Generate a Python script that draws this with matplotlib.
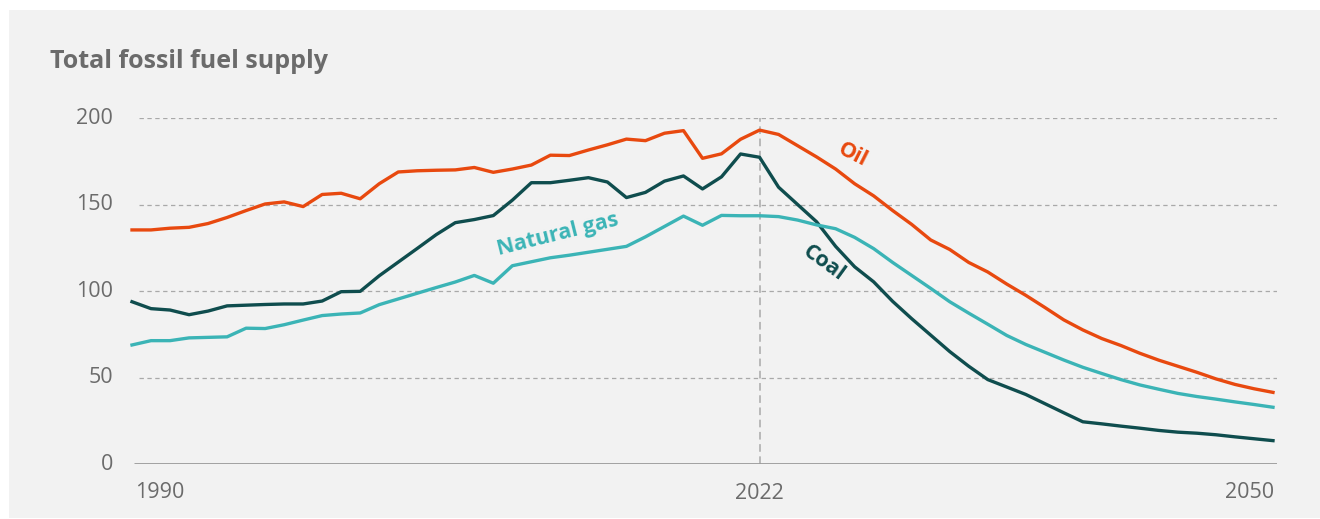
import matplotlib

matplotlib.use("Agg")

import matplotlib.pyplot as plt
from matplotlib.patches import Rectangle


FIG_W, FIG_H = 1320, 519
DPI = 100

YEARS = list(range(1990, 2051))

OIL = [
    135.3, 135.3, 136.3, 136.8, 139.0, 142.5, 146.5, 150.3, 151.5, 148.8,
    155.8, 156.5, 153.3, 162.0, 168.8, 169.5, 169.8, 170.0, 171.4, 168.6,
    170.5, 172.8, 178.5, 178.3, 181.5, 184.5, 187.8, 186.9, 191.2, 192.7,
    176.7, 179.3, 187.7, 193.0, 190.5, 184.0, 177.5, 170.5, 162.0, 155.0,
    146.5, 138.5, 129.5, 124.0, 116.5, 111.0, 104.0, 97.5, 90.5, 83.3,
    77.5, 72.5, 68.5, 64.0, 60.0, 56.5, 53.0, 49.2, 46.0, 43.5,
    41.4,
]

COAL = [
    93.8, 89.8, 89.0, 86.3, 88.4, 91.4, 91.8, 92.2, 92.5, 92.5,
    94.2, 99.6, 99.8, 108.8, 116.7, 124.6, 132.6, 139.5, 141.3, 143.6,
    152.5, 162.6, 162.6, 164.0, 165.5, 163.0, 154.0, 157.0, 163.5, 166.5,
    159.0, 166.0, 179.2, 177.3, 160.0, 150.0, 140.0, 125.8, 114.0, 105.3,
    94.0, 84.0, 74.5, 65.0, 56.5, 48.8, 44.5, 40.2, 34.9, 29.6,
    24.4, 23.2, 21.9, 20.7, 19.4, 18.4, 17.8, 16.9, 15.7, 14.6,
    13.5,
]

NATURAL_GAS = [
    68.8, 71.3, 71.3, 72.9, 73.2, 73.5, 78.5, 78.3, 80.5, 83.2,
    85.8, 86.7, 87.3, 92.1, 95.4, 98.7, 102.0, 105.2, 109.0, 104.5,
    114.6, 116.9, 119.2, 120.7, 122.4, 124.1, 125.8, 131.3, 137.3, 143.3,
    138.0, 143.7, 143.5, 143.5, 143.0, 141.0, 138.2, 136.0, 131.0, 124.5,
    116.5, 109.0, 101.5, 93.8, 87.2, 80.8, 74.3, 69.1, 64.6, 60.1,
    55.9, 52.3, 48.8, 45.7, 43.2, 40.8, 39.0, 37.5, 35.9, 34.4,
    32.8,
]

Y_TICKS = [0, 50, 100, 150, 200]
X_LABELS = ["1990", "2022", "2050"]
BASE_YEAR_LINE = 2023

COLORS = {
    "oil": "#e8490f",
    "coal": "#0f4d4e",
    "gas": "#3bb4b6",
}
TEXT_GRAY = "#6b6b6b"
PANEL = "#f2f2f2"

plt.rcParams["font.family"] = ["Open Sans", "DejaVu Sans"]


def px_x(x):
    return x / FIG_W


def px_y(y):
    return 1 - y / FIG_H


fig = plt.figure(figsize=(FIG_W / DPI, FIG_H / DPI), dpi=DPI, facecolor="white")
fig.patches.append(
    Rectangle((px_x(9), px_y(518)), px_x(1311), 508 / FIG_H,
              transform=fig.transFigure, facecolor=PANEL, edgecolor="none", zorder=-10)
)

# axes: 1990 at x=132, 2050 at x=1273; 0 at y=464, 200 at y=118
px_per_year = (1273 - 132) / 60
x0, x1 = 1990, 1990 + (1277 - 132) / px_per_year
ax = fig.add_axes([px_x(132), px_y(464), px_x(1277 - 132), (464 - 118) / FIG_H])
ax.set_zorder(5)
ax.set_facecolor("none")
ax.set_xlim(x0, x1)
ax.set_ylim(0, 200)
for side in ax.spines.values():
    side.set_visible(False)
ax.set_xticks([])
ax.set_yticks([])

grid_start = 1990 + (139 - 132) / px_per_year
for val in Y_TICKS[1:]:
    ax.hlines(val, grid_start, x1, colors="#a9a9a9", linewidth=0.9,
              linestyles=(0, (3.5, 2.8)), zorder=1)
ax.hlines(0, 1990.1, x1, colors="#9a9a9a", linewidth=2.0, zorder=2)
ax.vlines(BASE_YEAR_LINE, 0, 200, colors="#a9a9a9", linewidth=1.1,
          linestyles=(0, (5, 3)), zorder=1)

ax.plot(YEARS, COAL, color=COLORS["coal"], linewidth=2.4, clip_on=False, zorder=3,
        solid_joinstyle="round")
ax.plot(YEARS, NATURAL_GAS, color=COLORS["gas"], linewidth=2.4, clip_on=False, zorder=3,
        solid_joinstyle="round")
ax.plot(YEARS, OIL, color=COLORS["oil"], linewidth=2.4, clip_on=False, zorder=4,
        solid_joinstyle="round")

# y tick labels
for val in Y_TICKS:
    ax.text(-0.0165, val, str(val), transform=ax.get_yaxis_transform(),
            ha="right", va="center", fontsize=15.5, color=TEXT_GRAY)

# x tick labels
label_y = px_y(493)
fig.text(px_x(135), label_y, X_LABELS[0], ha="left", va="center", fontsize=15.5, color=TEXT_GRAY)
ax.text(BASE_YEAR_LINE, -0.085, X_LABELS[1], transform=ax.get_xaxis_transform(),
        ha="center", va="center", fontsize=15.5, color=TEXT_GRAY)
fig.text(px_x(1274), label_y, X_LABELS[2], ha="right", va="center", fontsize=15.5, color=TEXT_GRAY)

fig.text(px_x(50), px_y(61), "Total fossil fuel supply", ha="left", va="center",
         fontsize=18, fontweight="bold", color=TEXT_GRAY)

# series labels sit next to their lines
ax.text(2027.9, 178.5, "Oil", rotation=-27, ha="center", va="center", fontsize=15.5,
        fontweight="bold", color=COLORS["oil"])
ax.text(2012.4, 132.5, "Natural gas", rotation=14, ha="center", va="center", fontsize=15.5,
        fontweight="bold", color=COLORS["gas"])
ax.text(2026.4, 116, "Coal", rotation=-36, ha="center", va="center", fontsize=15.5,
        fontweight="bold", color=COLORS["coal"])

fig.savefig("out.png", dpi=DPI, facecolor="white")
